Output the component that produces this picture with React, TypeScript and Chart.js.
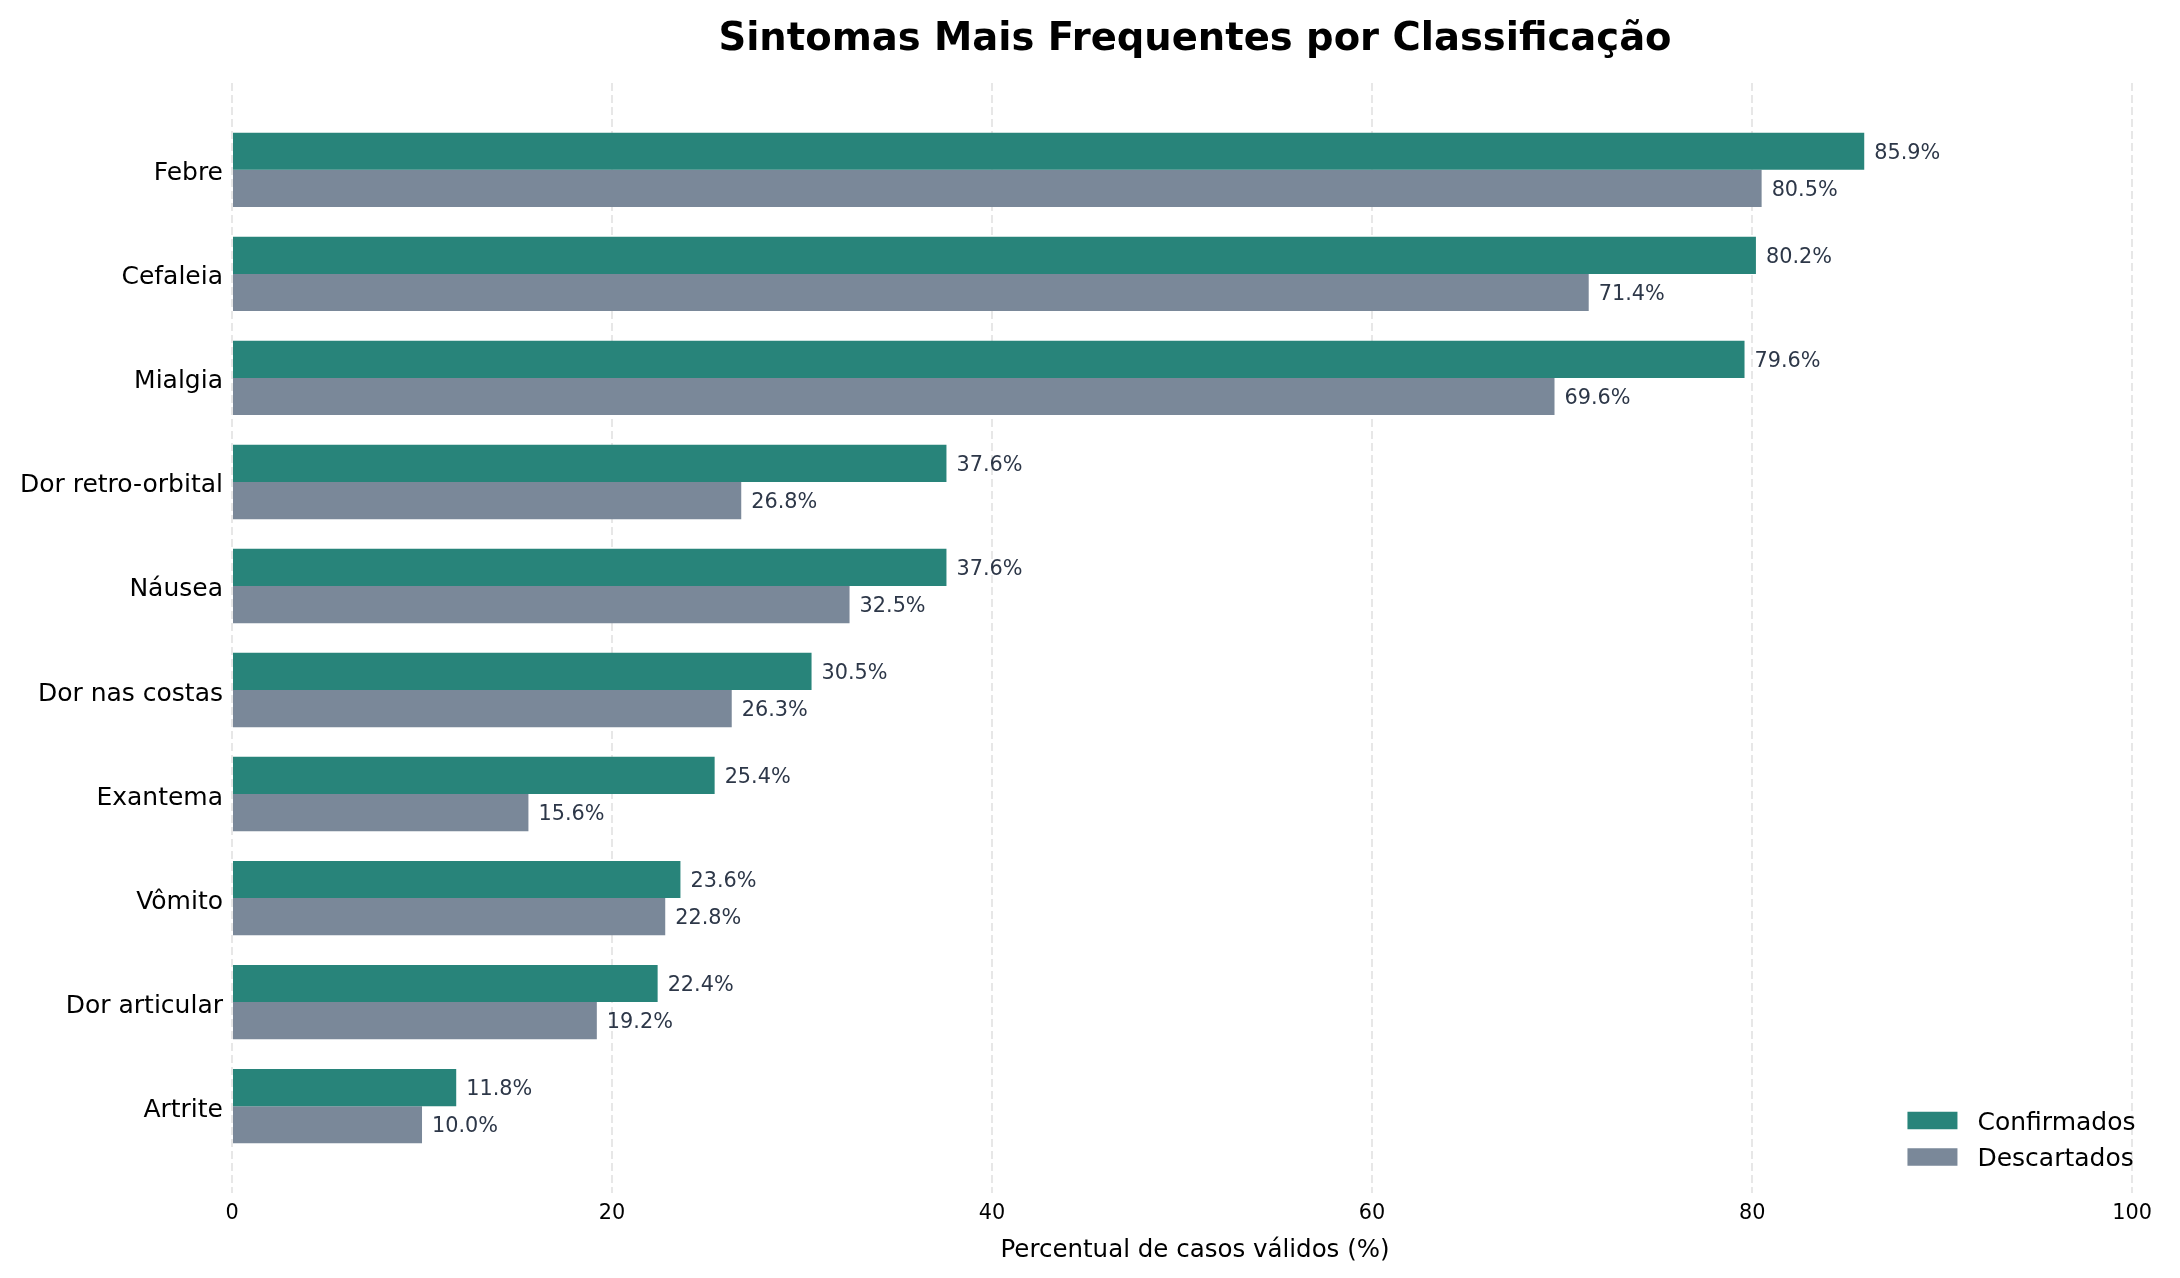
import React, { useEffect, useRef } from "react";
import { Chart, registerables } from "chart.js";

Chart.register(...registerables);

const categories = [
  "Febre",
  "Cefaleia",
  "Mialgia",
  "Dor retro-orbital",
  "Náusea",
  "Dor nas costas",
  "Exantema",
  "Vômito",
  "Dor articular",
  "Artrite",
];
const confirmados = [85.9, 80.2, 79.6, 37.6, 37.6, 30.5, 25.4, 23.6, 22.4, 11.8];
const descartados = [80.5, 71.4, 69.6, 26.8, 32.5, 26.3, 15.6, 22.8, 19.2, 10.0];
const seriesLabels = ["Confirmados", "Descartados"];
const seriesColors = ["rgb(40,132,122)", "rgb(122,136,153)"];
const xTicks = [0, 20, 40, 60, 80, 100];
const xMax = 101.36;
const titleText = "Sintomas Mais Frequentes por Classificação";
const xTitleText = "Percentual de casos válidos (%)";

const FONT = '"DejaVu Sans", sans-serif';

const overlayPlugin = {
  id: "overlay",
  afterDraw(chart: any) {
    const ctx: CanvasRenderingContext2D = chart.ctx;
    const area = chart.chartArea;
    ctx.save();

    // value labels
    ctx.font = `20.8px ${FONT}`;
    ctx.fillStyle = "#2d3748";
    ctx.textAlign = "left";
    ctx.textBaseline = "alphabetic";
    chart.data.datasets.forEach((ds: any, di: number) => {
      const meta = chart.getDatasetMeta(di);
      meta.data.forEach((el: any, i: number) => {
        const v = ds.data[i].x as number;
        ctx.fillText(v.toFixed(1) + "%", el.x + 10, el.y + 7.6);
      });
    });

    // title
    ctx.font = `bold 38.5px ${FONT}`;
    ctx.fillStyle = "#000";
    ctx.textAlign = "center";
    ctx.fillText(titleText, (area.left + area.right) / 2, 50);

    // legend
    ctx.font = `25px ${FONT}`;
    ctx.textAlign = "left";
    const widths = seriesLabels.map((s) => ctx.measureText(s).width);
    const maxW = Math.max(...widths);
    const textX = area.right - 22.5 - maxW;
    const handleRight = textX - 20;
    const rowCenters = [area.bottom - 72.5, area.bottom - 36];
    chart.data.datasets.forEach((ds: any, di: number) => {
      const cy = rowCenters[di];
      ctx.fillStyle = ds.backgroundColor;
      ctx.fillRect(handleRight - 50, cy - 8.75, 50, 17.5);
      ctx.fillStyle = "#000";
      ctx.fillText(ds.label, textX, cy + 9.3);
    });

    ctx.restore();
  },
};

export default function App() {
  const canvasRef = useRef<HTMLCanvasElement | null>(null);

  useEffect(() => {
    if (!canvasRef.current) return;
    Chart.defaults.font.family = FONT;
    const chart = new Chart(canvasRef.current, {
      type: "bar",
      data: {
        datasets: [
          {
            label: seriesLabels[0],
            data: confirmados.map((v, i) => ({ x: v, y: i })),
            backgroundColor: seriesColors[0],
            borderWidth: 0,
          },
          {
            label: seriesLabels[1],
            data: descartados.map((v, i) => ({ x: v, y: i })),
            backgroundColor: seriesColors[1],
            borderWidth: 0,
          },
        ],
      },
      options: {
        indexAxis: "y",
        responsive: false,
        animation: false,
        devicePixelRatio: 1,
        categoryPercentage: 0.715,
        barPercentage: 1,
        layout: { padding: { top: 83, right: 22, bottom: 0, left: 0 } },
        plugins: {
          legend: { display: false },
          title: { display: false },
          tooltip: { enabled: false },
        },
        scales: {
          x: {
            type: "linear",
            position: "bottom",
            min: 0,
            max: xMax,
            offset: false,
            z: 1,
            afterBuildTicks: (scale: any) => {
              scale.ticks = xTicks.map((v) => ({ value: v }));
            },
            afterFit: (scale: any) => {
              scale.height = 85;
            },
            grid: {
              display: true,
              offset: false,
              color: "rgba(176,176,176,0.3)",
              lineWidth: 2,
              drawTicks: false,
            },
            border: { display: false, dash: [8, 4] },
            ticks: {
              color: "#000",
              font: { size: 20.8, family: FONT },
              padding: 8,
            },
            title: {
              display: true,
              text: xTitleText,
              color: "#000",
              font: { size: 24.5, family: FONT },
              padding: { top: 0, bottom: 13 },
            },
          },
          y: {
            type: "linear",
            reverse: true,
            min: -0.835,
            max: 9.835,
            offset: false,
            afterBuildTicks: (scale: any) => {
              scale.ticks = categories.map((_, i) => ({ value: i }));
            },
            afterFit: (scale: any) => {
              scale.width = 232;
            },
            grid: { display: false, drawTicks: false, offset: false },
            border: { display: false },
            ticks: {
              color: "#000",
              font: { size: 25, family: FONT },
              padding: 9,
              labelOffset: 4,
              callback: (value: any) => categories[value as number] ?? "",
            },
          },
        },
      },
      plugins: [overlayPlugin],
    } as any);
    return () => chart.destroy();
  }, []);

  return (
    <div style={{ position: "absolute", left: 0, top: 0, width: 2180, height: 1278, background: "#fff" }}>
      <canvas ref={canvasRef} width={2180} height={1278} style={{ display: "block" }} />
    </div>
  );
}
